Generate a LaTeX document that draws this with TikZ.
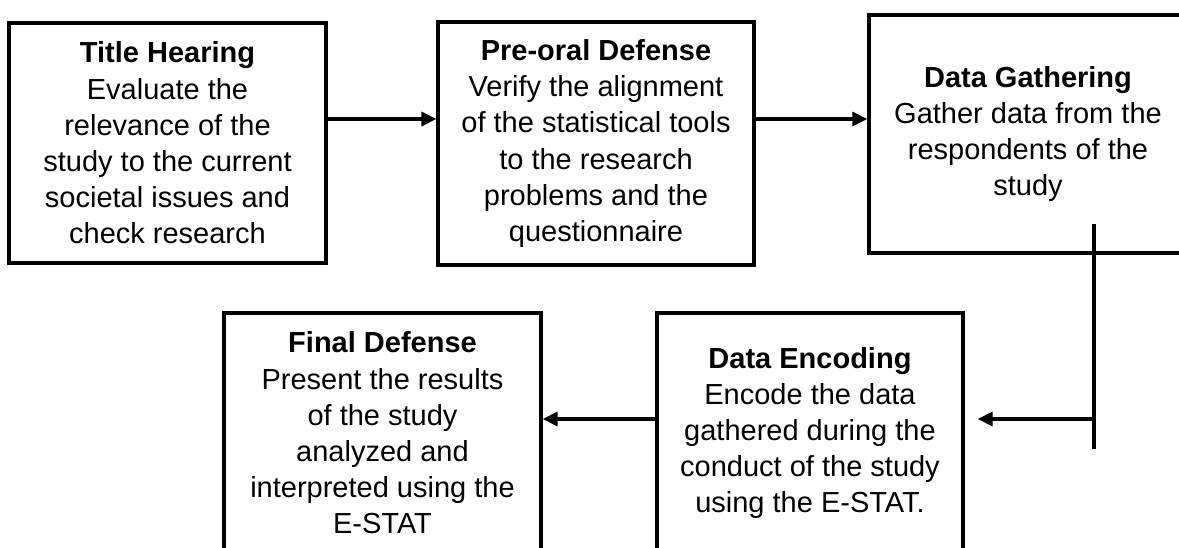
\documentclass[tikz,border=0pt]{standalone}
\usepackage{fontspec}
\setmainfont{Liberation Sans}
\usetikzlibrary{arrows.meta}
\begin{document}
\begin{tikzpicture}[x=1pt,y=-1pt,
  stage/.style={draw, line width=3.2pt, inner sep=0pt, align=center,
    font=\fontsize{29pt}{36.2pt}\selectfont, text=black},
  link/.style={line width=3.2pt, -{Triangle[length=15pt,width=14pt]}},
  rule/.style={line width=3.2pt},
]
\useasboundingbox (0,0) rectangle (1179,548);
\clip (0,0) rectangle (1179,548);

% top row
\node[stage, minimum width=317pt, minimum height=240pt] (th) at (167.5,143)
  {\textbf{Title Hearing}\\Evaluate the\\relevance of the\\study to the current\\societal issues and\\check research};
\node[stage, minimum width=316pt, minimum height=243pt] (po) at (596,143.5)
  {\textbf{Pre-oral Defense}\\Verify the alignment\\of the statistical tools\\to the research\\problems and the\\questionnaire};
\node[stage, minimum width=318pt, minimum height=238pt] (dg) at (1028,134)
  {\textbf{Data Gathering}\\Gather data from the\\respondents of the\\study};

% bottom row
\node[stage, minimum width=306pt, minimum height=240pt] (de) at (810,433)
  {\textbf{Data Encoding}\\Encode the data\\gathered during the\\conduct of the study\\using the E-STAT.};
\node[stage, minimum width=317pt, minimum height=240pt] (fd) at (382.5,433)
  {\textbf{Final Defense}\\Present the results\\of the study\\analyzed and\\interpreted using the\\E-STAT};

% connectors
\coordinate (row) at (0,119);
\draw[link] (th.east |- row) -- (po.west |- row);
\draw[link] (po.east |- row) -- (dg.west |- row);

\coordinate (vtop) at (1094,224);
\coordinate (vbot) at (1094,449);
\coordinate (turn) at (1094,419);
\draw[rule] (vtop) -- (vbot);
\draw[link, shorten >=13pt] (turn) -- (de.east |- turn);
\draw[link] (de.west |- turn) -- (fd.east |- turn);
\end{tikzpicture}
\end{document}
